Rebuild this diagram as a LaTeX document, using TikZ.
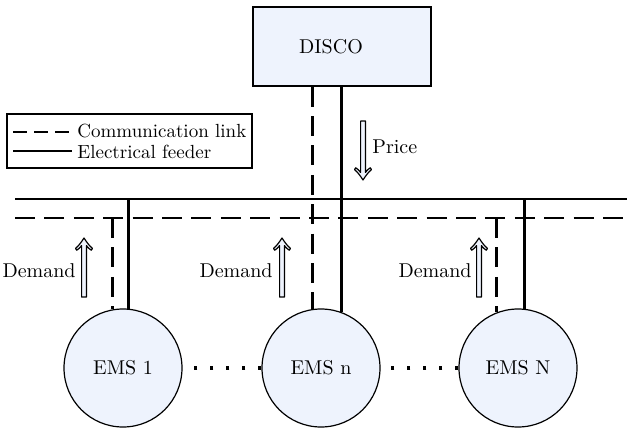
\documentclass[tikz,border=0pt]{standalone}
\definecolor{paleblue}{RGB}{238,243,253}
\begin{document}
\begin{tikzpicture}[x=0.5pt,y=-0.5pt,
  feeder/.style={line width=1.4pt},
  comm/.style={line width=1.4pt,dash pattern=on 10pt off 4.7pt},
  legcomm/.style={line width=1.4pt,dash pattern=on 7pt off 3.5pt},
  unitbox/.style={draw,line width=0.6pt,fill=paleblue,minimum width=89pt,minimum height=39.5pt,inner sep=0pt},
  ems/.style={circle,draw,line width=0.6pt,fill=paleblue,minimum size=59pt,inner sep=0pt},
  dots/.style={line width=1.8pt,dash pattern=on 1.8pt off 6.2pt},
  lab/.style={inner sep=0pt},
  legtext/.style={inner sep=0pt,anchor=west,font=\fontsize{9.5pt}{11pt}\selectfont},
  % hollow double-shafted arrow, tip at the origin, pointing up
  flowarrow/.pic={
    \path[draw,fill=paleblue,line width=0.6pt,line join=round]
      (0,0) .. controls (-2.5,4) and (-5.5,8) .. (-8.5,10.5)
      -- (-7.2,12.2)
      .. controls (-5.2,10.8) and (-3.6,9.4) .. (-2.4,7.6)
      -- (-2.4,59) -- (2.4,59) -- (2.4,7.6)
      .. controls (3.6,9.4) and (5.2,10.8) .. (7.2,12.2)
      -- (8.5,10.5)
      .. controls (5.5,8) and (2.5,4) .. (0,0) -- cycle;
  }]
\useasboundingbox (0,0) rectangle (627,429);

% utility and its label
\node[unitbox] (disco) at (342,46.5) {};
\node[lab] (discolabel) at (331,47) {DISCO};

% legend
\node[draw,line width=0.6pt,minimum width=122.5pt,minimum height=27pt,inner sep=0pt] (legend) at (129.5,141) {};
\coordinate (lc1) at (13,132);
\coordinate (lc2) at (72,132);
\coordinate (le1) at (13,151);
\coordinate (le2) at (72,151);
\draw[legcomm] (lc1) -- (lc2);
\draw[feeder] (le1) -- (le2);
\node[legtext] (legtext1) at (77,131) {Communication link};
\node[legtext] (legtext2) at (77,152) {Electrical feeder};

% feeder and communication buses
\coordinate (fL) at (15,199);
\coordinate (fR) at (627,199);
\coordinate (cL) at (15,218);
\coordinate (cR) at (627,218);
\draw[feeder] (fL) -- (fR);
\draw[comm] (cL) -- (cR);

% energy management systems
\node[ems] (ems1) at (123,368) {EMS 1};
\node[ems] (emsn) at (321,368) {EMS n};
\node[ems] (emsN) at (518,368) {EMS N};

% drops to EMS 1
\draw[feeder] (ems1.85.1 |- fL) -- (ems1.85.1);
\draw[comm] (ems1.100.7 |- cL) -- (ems1.100.7);
% drops from DISCO to EMS n
\draw[feeder] (disco.south -| emsn.70.2) -- (emsn.70.2);
\draw[comm] (disco.south -| emsn.98.8) -- (emsn.98.8);
% drops to EMS N
\draw[feeder] (emsN.84.2 |- fL) -- (emsN.84.2);
\draw[comm] (emsN.111.9 |- cL) -- (emsN.111.9);

% dotted continuation between EMS units
\draw[dots] (emsn.west) -- (ems1.east);
\draw[dots] (emsN.west) -- (emsn.east);

% price signal
\coordinate (ptip) at (363,180);
\pic[rotate=180] at (ptip) {flowarrow};
\node[lab,anchor=west] (price) at (372,147) {Price};

% demand signals
\coordinate (d1tip) at (84,238);
\pic at (d1tip) {flowarrow};
\node[lab,anchor=east] (dem1) at (76,271) {Demand};
\coordinate (dntip) at (282,238);
\pic at (dntip) {flowarrow};
\node[lab,anchor=east] (demn) at (273,271) {Demand};
\coordinate (dNtip) at (479,238);
\pic at (dNtip) {flowarrow};
\node[lab,anchor=east] (demN) at (472,271) {Demand};
\end{tikzpicture}
\end{document}
